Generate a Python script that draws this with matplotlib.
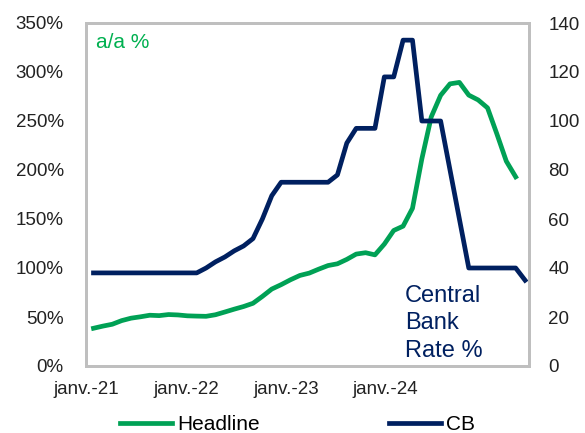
import matplotlib
matplotlib.use("Agg")
import matplotlib.pyplot as plt
import numpy as np

plt.rcParams['font.family'] = ['Liberation Sans', 'DejaVu Sans']

# monthly series, Jan 2021 onwards
headline = [38.5, 40.7, 42.6, 46.3, 48.8, 50.2, 51.8, 51.4, 52.5, 52.1, 51.2, 50.9,
            50.7, 52.3, 55.1, 58.0, 60.7, 64.0, 71.0, 78.5, 83.0, 88.0, 92.4, 94.8,
            98.8, 102.5, 104.3, 108.8, 114.2, 115.6, 113.4, 124.4, 138.3, 142.7, 160.9, 211.4,
            254.2, 276.2, 287.9, 289.4, 276.4, 271.5, 263.4, 236.7, 209.0, 193.0]
cb_rate = [38] * 12 + \
          [40, 42.5, 44.5, 47, 49, 52, 60, 69.5, 75, 75, 75, 75] + \
          [75, 75, 78, 91, 97, 97, 97, 118, 118, 133, 133, 100] + \
          [100, 100, 80, 60, 40, 40, 40, 40, 40, 40, 35]

tick_labels = ['janv.-21', 'janv.-22', 'janv.-23', 'janv.-24']
tick_pos = [-0.8, 9.9, 20.5, 31.1]   # month index of each label
left_ticks = np.arange(0, 351, 50)
right_ticks = np.arange(0, 141, 20)

green = '#00A155'
navy = '#002060'
frame = '#BFBFBF'

fig = plt.figure(figsize=(5.85, 4.33), dpi=100)
ax = fig.add_axes([86 / 585, 1 - 366 / 433, 443 / 585, 343 / 433])
ax2 = ax.twinx()

ax.plot(np.arange(len(headline)), headline, color=green, lw=3.4,
        solid_joinstyle='round', label='Headline')
ax2.plot(np.arange(len(cb_rate)), cb_rate, color=navy, lw=3.4,
         solid_joinstyle='round', label='CB')

ax.set_xlim(-0.21, 46.42)
ax.set_ylim(0, 350)
ax2.set_ylim(0, 140)

ax.set_yticks(left_ticks)
ax.set_yticklabels([f'{v}%' for v in left_ticks])
ax2.set_yticks(right_ticks)
ax.set_xticks(tick_pos)
ax.set_xticklabels(tick_labels)

ax.tick_params(axis='y', length=0, pad=16, labelsize=13.5, labelcolor='#222222')
ax.tick_params(axis='x', length=0, pad=11, labelsize=13.5, labelcolor='#222222')
ax2.tick_params(axis='y', length=0, pad=14, labelsize=13.5, labelcolor='#222222')

for a in (ax, ax2):
    for s in a.spines.values():
        s.set_color(frame)
        s.set_linewidth(2)

ax.text(0.023, 0.942, 'a/a %', transform=ax.transAxes, color='#00B050',
        fontsize=15, va='center', ha='left')
ax2.text(0.72, 0.124, 'Central\nBank\nRate %', transform=ax.transAxes, color=navy,
         fontsize=17, va='center', ha='left', linespacing=1.3)

h1, l1 = ax.get_legend_handles_labels()
h2, l2 = ax2.get_legend_handles_labels()
fig.legend(h1 + h2, l1 + l2, loc='center left', bbox_to_anchor=(120 / 585, 1 - 425 / 433),
           ncol=2, frameon=False, fontsize=15, handlelength=2.5, handletextpad=0.25,
           columnspacing=6.2, borderpad=0, borderaxespad=0)

fig.savefig('out.png', dpi=100)
